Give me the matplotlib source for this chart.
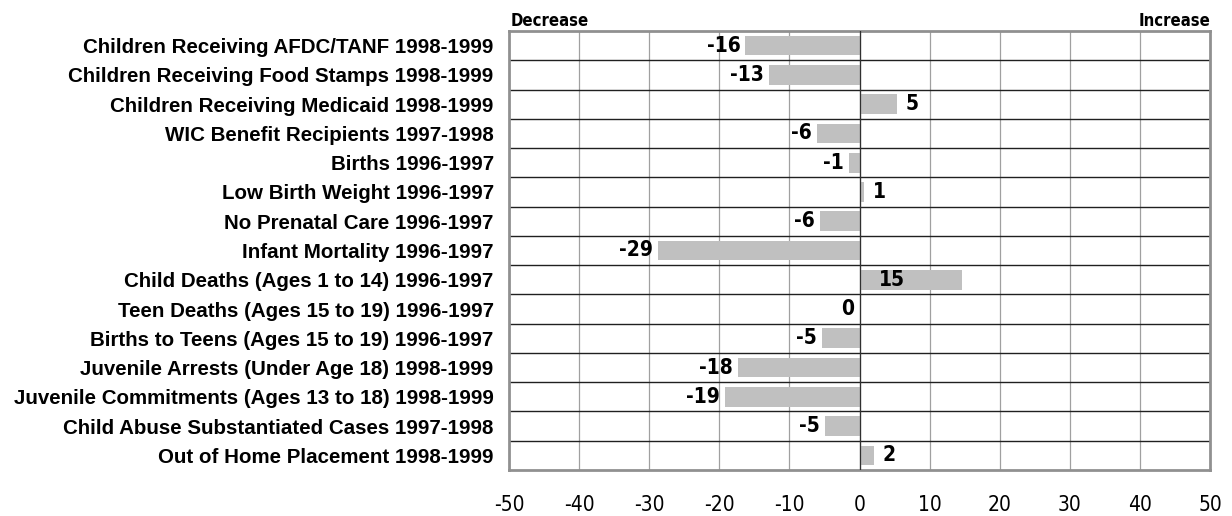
import matplotlib.pyplot as plt
from matplotlib import font_manager

categories = [
    "Children Receiving AFDC/TANF 1998-1999",
    "Children Receiving Food Stamps 1998-1999",
    "Children Receiving Medicaid 1998-1999",
    "WIC Benefit Recipients 1997-1998",
    "Births 1996-1997",
    "Low Birth Weight 1996-1997",
    "No Prenatal Care 1996-1997",
    "Infant Mortality 1996-1997",
    "Child Deaths (Ages 1 to 14) 1996-1997",
    "Teen Deaths (Ages 15 to 19) 1996-1997",
    "Births to Teens (Ages 15 to 19) 1996-1997",
    "Juvenile Arrests (Under Age 18) 1998-1999",
    "Juvenile Commitments (Ages 13 to 18) 1998-1999",
    "Child Abuse Substantiated Cases 1997-1998",
    "Out of Home Placement 1998-1999",
]
changes = [-16.3, -12.9, 5.4, -6.1, -1.5, 0.7, -5.7, -28.8, 14.6, 0.0,
           -5.4, -17.4, -19.2, -4.9, 2.1]
value_labels = ["-16", "-13", "5", "-6", "-1", "1", "-6", "-29", "15", "0",
                "-5", "-18", "-19", "-5", "2"]
xticks = [-50, -40, -30, -20, -10, 0, 10, 20, 30, 40, 50]


def find_font(keys, fallback):
    # look for a narrow / condensed face among installed files
    for key in keys:
        for f in font_manager.fontManager.ttflist:
            if key.lower() in f.fname.lower().replace(" ", "").replace("-", ""):
                return font_manager.FontProperties(fname=f.fname)
    return font_manager.FontProperties(family=fallback[0], weight=fallback[1])


narrow_bold = find_font(["LiberationSansNarrowBold", "DejaVuSansCondensedBold"],
                        ("Liberation Sans", "bold"))
narrow_reg = find_font(["LiberationSansNarrowRegular", "LiberationSansNarrow.",
                        "DejaVuSansCondensed.ttf"], ("Liberation Sans", "normal"))

fig = plt.figure(figsize=(12.32, 5.16), dpi=100)
ax = fig.add_axes([509 / 1232, 46 / 516, 701 / 1232, 439 / 516])

n = len(categories)
ypos = list(range(n))
ax.barh(ypos, changes, height=0.67, color="#c0c0c0", zorder=2)

ax.set_xlim(-50, 50)
ax.set_ylim(n - 0.5, -0.5)

for x in xticks[1:-1]:
    ax.axvline(x, color="#a0a0a0", lw=0.9, zorder=1)
ax.axvline(0, color="#303030", lw=0.9, zorder=3)
for k in range(1, n):
    ax.axhline(k - 0.5, color="#202020", lw=1.0, zorder=1)
for s in ax.spines.values():
    s.set_color("#909090")
    s.set_linewidth(2)

ax.set_yticks(ypos)
ax.set_yticklabels(categories, fontsize=14.8, fontweight="bold", family="Liberation Sans")
ax.set_xticks(xticks)
ax.set_xticklabels([str(t) for t in xticks])
for t in ax.get_xticklabels():
    t.set_fontproperties(narrow_reg)
    t.set_fontsize(15)
ax.tick_params(axis="both", length=0)
ax.tick_params(axis="x", pad=18)
ax.tick_params(axis="y", pad=11)

for y, v, lab in zip(ypos, changes, value_labels):
    if v < 0:
        x, ha = v - 0.7, "right"
    elif v == 0:
        x, ha = -0.7, "right"
    elif v > 10:
        x, ha = 2.8, "left"
    else:
        x, ha = v + 1.2, "left"
    ax.text(x, y, lab, ha=ha, va="center", fontproperties=narrow_bold,
            fontsize=15, zorder=4)

ax.text(0.003, 1.003, "Decrease", transform=ax.transAxes, ha="left", va="bottom",
        fontproperties=narrow_bold, fontsize=12)
ax.text(1.0, 1.003, "Increase", transform=ax.transAxes, ha="right", va="bottom",
        fontproperties=narrow_bold, fontsize=12)

fig.savefig("out.png", dpi=100)
